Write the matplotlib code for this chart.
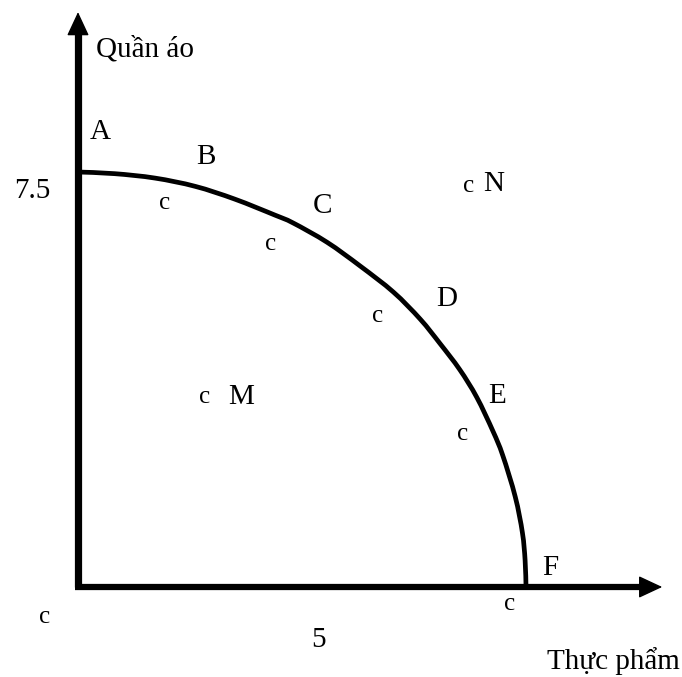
import numpy as np
import matplotlib
matplotlib.use('Agg')
import matplotlib.pyplot as plt
from matplotlib.path import Path
from matplotlib.patches import PathPatch

plt.rcParams['font.family'] = ['Liberation Serif', 'DejaVu Serif']

# Production possibility frontier (x: thuc pham, y: quan ao)
curve_x = [0.0, 0.41, 0.86, 1.31, 1.75, 2.20, 2.40, 2.78, 3.15, 3.52,
           3.82, 4.04, 4.26, 4.45, 4.63, 4.74, 4.88, 4.96, 4.99, 5.0]
curve_y = [7.5, 7.47, 7.39, 7.24, 7.01, 6.72, 6.58, 6.23, 5.80, 5.33,
           4.84, 4.40, 3.93, 3.43, 2.82, 2.38, 1.63, 0.98, 0.48, 0.0]

# Point letters and where they sit
point_names = ['A', 'B', 'C', 'D', 'E', 'F', 'N', 'M']
point_x = [0.25, 1.43, 2.73, 4.11, 4.68, 5.27, 4.64, 1.82]
point_y = [8.22, 7.77, 6.88, 5.20, 3.45, 0.34, 7.28, 3.44]

# the stray "c" glyphs of the original
c_x = [0.97, 2.15, 3.34, 4.29, 4.36, 1.41, -0.37, 4.82]
c_y = [6.94, 6.20, 4.90, 2.76, 7.25, 3.44, -0.54, -0.31]

x_tick = 5
y_tick = 7.5
x_label = 'Thực phẩm'
y_label = 'Quần áo'

fig = plt.figure(figsize=(6.82, 6.77), dpi=100)
ax = fig.add_axes([0, 0, 1, 1])
ax.set_xlim(-0.8705, 6.741)
ax.set_ylim(-1.627, 10.609)
ax.axis('off')

# axes with arrow heads
ax.plot([0, 0], [0, 10.0], color='black', lw=5.2, solid_capstyle='butt')
ax.plot([-0.03, 6.3], [0, 0], color='black', lw=4.5, solid_capstyle='butt')
ax.annotate('', xy=(0, 10.39), xytext=(0, 9.6),
            arrowprops=dict(arrowstyle='-|>,head_length=0.75,head_width=0.35',
                            color='black', lw=1, mutation_scale=20, shrinkA=0, shrinkB=0))
ax.annotate('', xy=(6.52, 0), xytext=(6.1, 0),
            arrowprops=dict(arrowstyle='-|>,head_length=0.75,head_width=0.35',
                            color='black', lw=1, mutation_scale=20, shrinkA=0, shrinkB=0))

# smooth the frontier through the read points (catmull-rom -> bezier)
pts = np.column_stack([curve_x, curve_y])
verts = [pts[0]]
codes = [Path.MOVETO]
for i in range(len(pts) - 1):
    p0 = pts[max(i - 1, 0)]
    p1 = pts[i]
    p2 = pts[i + 1]
    p3 = pts[min(i + 2, len(pts) - 1)]
    verts += [p1 + (p2 - p0) / 6, p2 - (p3 - p1) / 6, p2]
    codes += [Path.CURVE4] * 3
ax.add_patch(PathPatch(Path(verts, codes), fill=False, edgecolor='black', lw=3.4))

for name, px, py in zip(point_names, point_x, point_y):
    ax.text(px, py, name, fontsize=21, ha='center', va='center')

for px, py in zip(c_x, c_y):
    ax.text(px, py, 'c', fontsize=18, ha='center', va='center')

ax.text(-0.51, 7.16, str(y_tick), fontsize=21, ha='center', va='center')
ax.text(2.68, -0.95, str(x_tick), fontsize=21, ha='center', va='center')
ax.text(5.98, -1.33, x_label, fontsize=21, ha='center', va='center')
ax.text(0.75, 9.71, y_label, fontsize=21, ha='center', va='center')

fig.savefig('out.png', dpi=100)
